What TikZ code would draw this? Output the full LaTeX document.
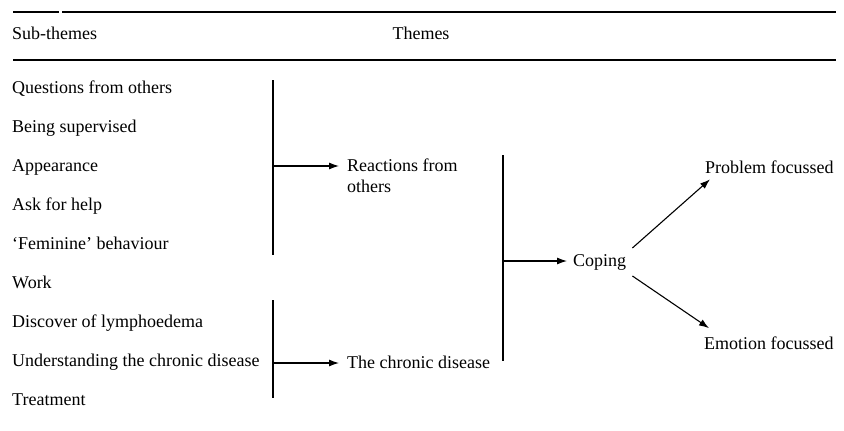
\documentclass[tikz,border=0pt]{standalone}
\usepackage{fontspec}
\setmainfont{Liberation Serif}
\usetikzlibrary{arrows.meta}
\begin{document}
\begin{tikzpicture}[x=1pt,y=-1pt,font=\fontsize{18}{21}\selectfont,
  txt/.style={anchor=base west,inner sep=0pt},
  rule/.style={line width=1.4pt},
  bar/.style={line width=1.4pt},
  arr/.style={line width=1.1pt,-{Latex[length=10pt,width=7pt]}}]
\useasboundingbox (0,0) rectangle (844,431);
% header rules
\draw[rule](13,12)--(59,12) (62,12)--(836,12);
\draw[rule](13,60)--(836,60);
\node[txt](hsub) at (12,39){Sub-themes};
\node[anchor=base,inner sep=0pt](hthm) at (421,39){Themes};
% sub-themes
\foreach \t [count=\i] in {Questions from others,Being supervised,Appearance,Ask for help,`Feminine' behaviour,Work,Discover of lymphoedema,Understanding the chronic disease,Treatment}
  {\node[txt](s\i) at (12,{93+39*(\i-1)}){\t};}
% themes
\node[anchor=north west,inner sep=0pt,align=left](reac) at (347,159){Reactions from\\others};
\node[txt](chron) at (347,368){The chronic disease};
\node[txt](cope) at (573,266){Coping};
\node[txt](prob) at (705,173){Problem focussed};
\node[txt](emot) at (704,349){Emotion focussed};
% bars
\coordinate(b1t) at (273,80); \coordinate(b1b) at (273,255); \coordinate(b1m) at (273,166);
\coordinate(b2t) at (273,300); \coordinate(b2b) at (273,398); \coordinate(b2m) at (273,363);
\coordinate(b3t) at (503,155); \coordinate(b3b) at (503,361); \coordinate(b3m) at (503,261);
\draw[bar](b1t)--(b1b);
\draw[bar](b2t)--(b2b);
\draw[bar](b3t)--(b3b);
% arrows
\draw[arr,shorten >=8pt](b1m)--(b1m-|reac.west);
\draw[arr,shorten >=8pt](b2m)--(b2m-|chron.west);
\draw[arr,shorten >=6pt](b3m)--(b3m-|cope.west);
\draw[arr]([shift={(6,-14)}]cope.east)--([shift={(5,6)}]prob.south west);
\draw[arr]([shift={(6,14)}]cope.east)--([shift={(5,-8)}]emot.north west);
\end{tikzpicture}
\end{document}
